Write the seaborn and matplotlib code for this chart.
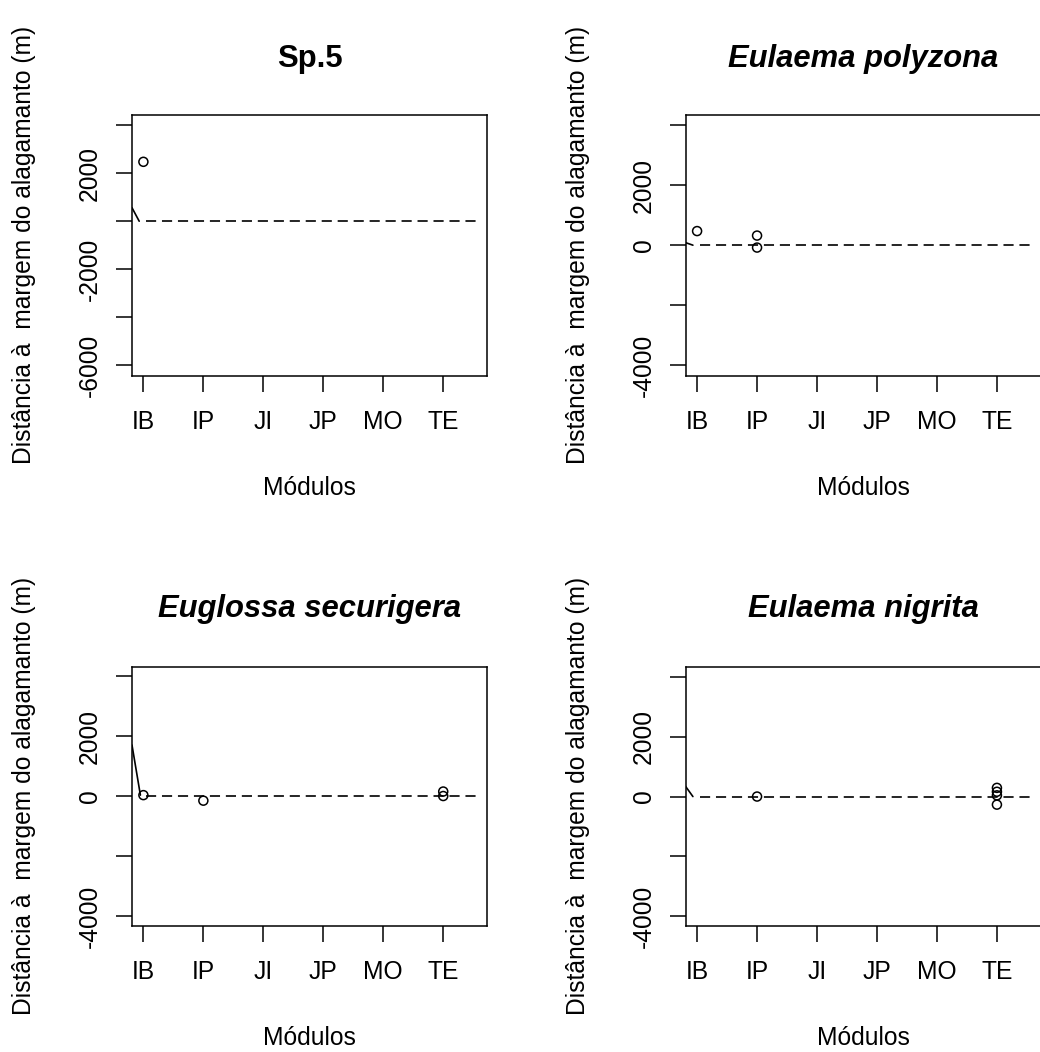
import matplotlib
matplotlib.use("Agg")
import matplotlib.pyplot as plt
import seaborn as sns
import pandas as pd

sns.set_style("white")
plt.rcParams['font.family'] = ['Liberation Sans', 'DejaVu Sans']
plt.rcParams['lines.scale_dashes'] = False
plt.rcParams['text.color'] = 'black'
plt.rcParams['axes.labelcolor'] = 'black'
plt.rcParams['xtick.color'] = 'black'
plt.rcParams['ytick.color'] = 'black'
plt.rcParams['xtick.labelcolor'] = 'black'
plt.rcParams['ytick.labelcolor'] = 'black'

# ---------------- data ----------------
modules = ["IB", "IP", "JI", "JP", "MO", "TE"]

titles = ["Sp.5", "Eulaema polyzona", "Euglossa securigera", "Eulaema nigrita"]
title_italic = [False, True, True, True]

sp5_mod = ["IB"]
sp5_dist = [2470]
polyzona_mod = ["IB", "IP", "IP"]
polyzona_dist = [470, 320, -80]
securigera_mod = ["IB", "IP", "TE", "TE"]
securigera_dist = [30, -155, 150, 0]
nigrita_mod = ["IP", "TE", "TE", "TE", "TE"]
nigrita_dist = [0, 290, 160, 40, -270]

# solid trend segments (module index, distance)
sp5_trend_x = [-0.19, -0.07]
sp5_trend_y = [560, 0]
polyzona_trend_x = [-0.2, -0.07]
polyzona_trend_y = [90, 0]
securigera_trend_x = [-0.19, -0.05]
securigera_trend_y = [1700, 30]
nigrita_trend_x = [-0.21, -0.07]
nigrita_trend_y = [390, 0]

# dashed zero reference
zero_x = [0.05, 5.56]
zero_y = [0, 0]

ticks_sp5 = [4000, 2000, 0, -2000, -4000, -6000]
ticklabels_sp5 = ["", "2000", "", "-2000", "", "-6000"]
ticks_other = [4000, 2000, 0, -2000, -4000]
ticklabels_other = ["", "2000", "0", "", "-4000"]

ylabel = "Distância à  margem do alagamanto (m)"
xlabel = "Módulos"

panels = [
    (sp5_mod, sp5_dist, sp5_trend_x, sp5_trend_y, ticks_sp5, ticklabels_sp5, (-6417, 4417)),
    (polyzona_mod, polyzona_dist, polyzona_trend_x, polyzona_trend_y, ticks_other, ticklabels_other, (-4345, 4340)),
    (securigera_mod, securigera_dist, securigera_trend_x, securigera_trend_y, ticks_other, ticklabels_other, (-4330, 4315)),
    (nigrita_mod, nigrita_dist, nigrita_trend_x, nigrita_trend_y, ticks_other, ticklabels_other, (-4315, 4335)),
]

# ---------------- layout ----------------
W, H = 1040, 1052
fig = plt.figure(figsize=(W / 100, H / 100), dpi=100)

lefts = [132, 685.7, 132, 685.7]
tops = [115, 115, 666.7, 666.7]
bottoms = [375.5, 375.5, 925.8, 925.8]
width_px = 355

FS = 17.7
TFS = 22.3

for i, (mods, dist, tx, ty, yt, ytl, ylim) in enumerate(panels):
    l, t, b = lefts[i], tops[i], bottoms[i]
    ax = fig.add_axes([l / W, 1 - b / H, width_px / W, (b - t) / H])
    df = pd.DataFrame({"x": [modules.index(m) for m in mods], "y": dist})

    sns.lineplot(x=tx, y=ty, ax=ax, color="black", lw=1.2, estimator=None, sort=False)
    sns.lineplot(x=zero_x, y=zero_y, ax=ax, color="black", lw=1.2, estimator=None,
                 sort=False, linestyle=(0, (7.3, 4.2)))
    sns.scatterplot(data=df, x="x", y="y", ax=ax, color="black", s=42, linewidth=1.1,
                    marker="o", zorder=3)
    coll = ax.collections[-1]
    coll.set_facecolor("none")
    coll.set_edgecolor("black")

    ax.set_xlim(-0.19, 5.73)
    ax.set_ylim(*ylim)
    ax.set_xticks(range(len(modules)))
    ax.set_xticklabels(modules, fontsize=FS, color="black")
    ax.set_yticks(yt)
    ax.set_yticklabels(ytl, fontsize=FS, rotation=90, va="center", color="black")
    ax.tick_params(axis="both", direction="out", length=11.5, width=1.1, color="black",
                   labelcolor="black", left=True, bottom=True)
    ax.tick_params(axis="x", pad=13)
    ax.tick_params(axis="y", pad=10)
    ax.set_xlabel("")
    ax.set_ylabel("")
    for sp in ax.spines.values():
        sp.set_visible(True)
        sp.set_color("black")
        sp.set_linewidth(1.1)

    cx = l + width_px / 2
    # title
    fig.text(cx / W, 1 - (t - 48 - 1.5 * (i >= 2)) / H, titles[i], ha="center", va="baseline",
             fontsize=TFS, fontweight="bold", color="black",
             style="italic" if title_italic[i] else "normal")
    # x label
    fig.text(cx / W, 1 - (b + 119.5) / H, xlabel, ha="center", va="baseline", fontsize=FS,
             color="black")
    # y label
    fig.text((l - 108) / W, 1 - ((t + b) / 2) / H, ylabel, ha="center", va="center",
             rotation=90, fontsize=FS, color="black")

fig.savefig("out.png", dpi=100, facecolor="white")
